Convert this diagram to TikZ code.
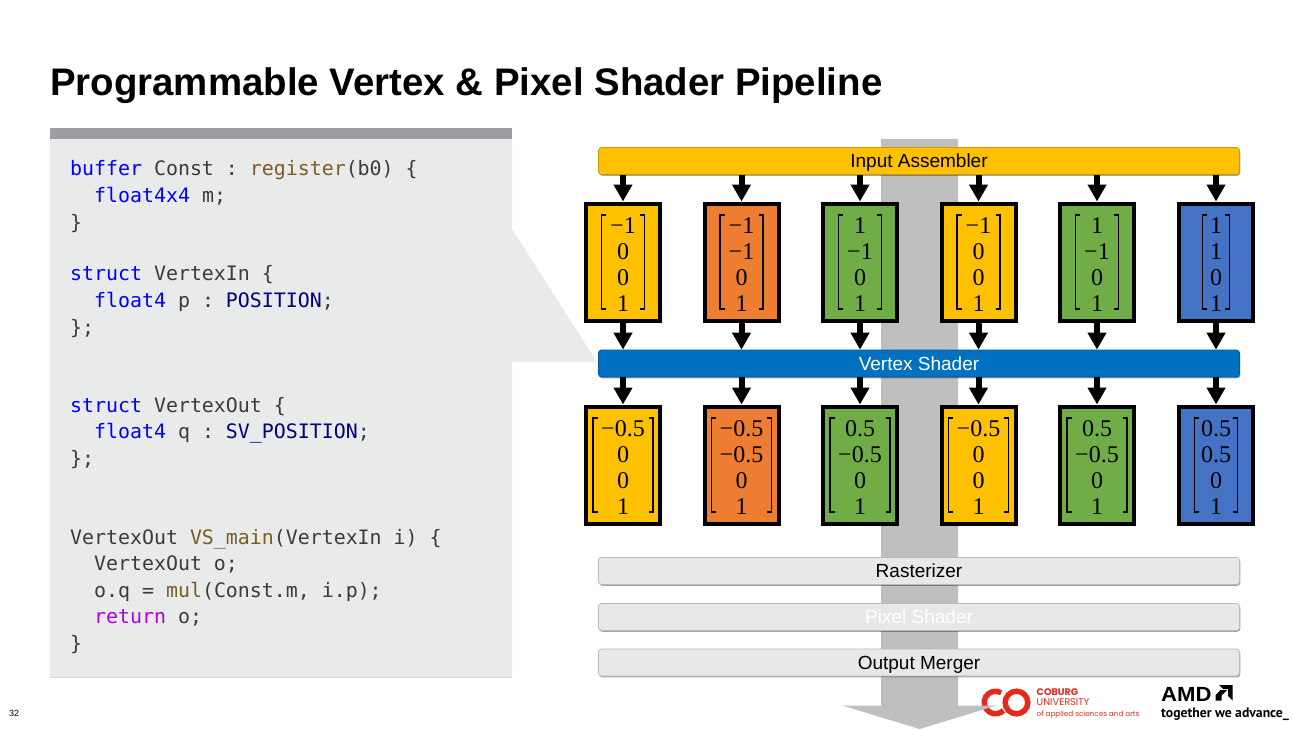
\documentclass[tikz,border=0pt]{standalone}
\usepackage{fontspec}
\usetikzlibrary{arrows.meta,shadows}
\setmainfont{Liberation Sans}
\setmonofont{DejaVu Sans Mono}
\newfontfamily\popfont{Poppins}
\newfontfamily\tagfont{PT Sans}
\newfontfamily\digfont{Liberation Serif}
\definecolor{cgold}{HTML}{FFC000}
\definecolor{corange}{HTML}{ED7D31}
\definecolor{cgreen}{HTML}{70AD47}
\definecolor{cblue}{HTML}{4472C4}
\definecolor{cvs}{HTML}{0070C0}
\definecolor{cpanel}{HTML}{E9EBEB}
\definecolor{cband}{HTML}{9D9EA1}
\definecolor{cflow}{HTML}{BFBFBF}
\definecolor{cbar}{HTML}{E7E8E8}
\definecolor{cred}{HTML}{E42A1D}
\definecolor{kwblue}{HTML}{0000FF}
\definecolor{tyblue}{HTML}{000080}
\definecolor{fnbrown}{HTML}{795E26}
\definecolor{kwpurple}{HTML}{AF00DB}
\definecolor{codetx}{HTML}{3B3B3B}
\newcommand{\kw}[1]{\textcolor{kwblue}{#1}}
\newcommand{\ty}[1]{\textcolor{tyblue}{#1}}
\newcommand{\fn}[1]{\textcolor{fnbrown}{#1}}
\newcommand{\pu}[1]{\textcolor{kwpurple}{#1}}
\tikzset{
  codeline/.style={anchor=base west,inner sep=0pt,yshift=-0.8pt,text=codetx,font=\ttfamily\fontsize{19.9}{24}\selectfont},
  barbox/.style={draw=#1!80!black,fill=#1,line width=.8pt,rounded corners=3pt,minimum width=641pt,minimum height=27pt,inner sep=0pt,
    text height=13.4pt,text depth=0pt,
    font=\fontsize{19}{22}\selectfont,drop shadow={shadow xshift=.8pt,shadow yshift=-1.3pt,opacity=.35,fill=black}},
  vecbox/.style={draw=black,fill=#1,line width=4pt,minimum width=74pt,minimum height=117pt,inner sep=0pt,align=center,
    font=\digfont\fontsize{24}{26}\selectfont},
  flowarrow/.style={-{Triangle[width=18pt,length=17pt]},line width=6pt,black,shorten <=-.3pt},
  brack/.style={draw=black,line width=1.3pt}
}
% name, x, y, fill, half width of bracket, body
\newcommand{\vecnode}[6]{%
  \node[vecbox=#4] (#1) at (#2,#3) {\rule{0pt}{20.5pt}#6};
  \draw[brack] ([shift={(-#5+4.5,-47)}]#1.center) -- ++(-4.5,0) -- ++(0,94) -- ++(4.5,0);
  \draw[brack] ([shift={(#5-4.5,-47)}]#1.center) -- ++(4.5,0) -- ++(0,94) -- ++(-4.5,0);
}
\begin{document}
\begin{tikzpicture}[x=1pt,y=-1pt]
\useasboundingbox (0,0) rectangle (1293,729);
\fill[white] (0,0) rectangle (1293,729);
% title
\node[anchor=base west,inner sep=0pt,font=\bfseries\fontsize{38.4}{44}\selectfont] (title) at (50,95.5) {Programmable Vertex \& Pixel Shader Pipeline};
% code panel
\fill[cpanel] (50,139) -- (512,139) -- (512,229) -- (597,362) -- (512,362) -- (512,677) -- (50,677) -- cycle;
\fill[cband] (50,128) rectangle (512,139);
\fill[black!15] (50,676.5) rectangle (512,678);
\node[codeline] (c1) at (70,175) {\kw{buffer} Const : \fn{register}(b0) \{};
\node[codeline] (c2) at (94,202) {\kw{float4x4} m;};
\node[codeline] (c3) at (70,229) {\}};
\node[codeline] (c4) at (70,280) {\kw{struct} VertexIn \{};
\node[codeline] (c5) at (94,307) {\kw{float4} p : \ty{POSITION};};
\node[codeline] (c6) at (70,334) {\};};
\node[codeline] (c7) at (70,412) {\kw{struct} VertexOut \{};
\node[codeline] (c8) at (94,438) {\kw{float4} q : \ty{SV\_POSITION};};
\node[codeline] (c9) at (70,465) {\};};
\node[codeline] (c10) at (70,544) {VertexOut \fn{VS\_main}(VertexIn i) \{};
\node[codeline] (c11) at (94,570) {VertexOut o;};
\node[codeline] (c12) at (94,597) {o.q = \fn{mul}(Const.m, i.p);};
\node[codeline] (c13) at (94,623) {\pu{return} o;};
\node[codeline] (c14) at (70,650) {\}};
% Coburg logo
\draw[cred,line width=5.5pt] (1001.15,692.7) arc[start angle=-60,end angle=-315,radius=11.3];
\draw[cred,line width=5.5pt] (1016.5,702.5) circle[radius=11.3];
\node[anchor=base west,inner sep=0pt,text=cred,font=\popfont\bfseries\fontsize{9.6}{11}\selectfont] (lg1) at (1036.5,695) {COBURG};
\node[anchor=base west,inner sep=0pt,text=cred,font=\popfont\fontsize{9.8}{11}\selectfont] (lg2) at (1036.5,705.5) {UNIVERSITY};
\node[anchor=base west,inner sep=0pt,text=cred,font=\popfont\fontsize{7.25}{9}\selectfont] (lg3) at (1036.5,716.5) {of applied sciences and arts};
% big flow arrow
\fill[cflow] (881,139) -- (958,139) -- (958,705.7) -- (996,705.7) -- (919.5,729) -- (843,705.7) -- (881,705.7) -- cycle;
% bars
\node[barbox=cgold] (ia) at (919,161) {Input Assembler};
\node[barbox=cvs,text=white] (vs) at (919,363.5) {Vertex Shader};
\node[barbox=cbar] (ra) at (919,571) {Rasterizer};
\node[barbox=cbar,text=white] (ps) at (919,617) {Pixel Shader};
\node[barbox=cbar] (om) at (919,662.5) {Output Merger};
% input vectors
\def\vA{−1\\0\\0\\1}
\def\vB{−1\\−1\\0\\1}
\def\vC{1\\−1\\0\\1}
\def\vD{1\\1\\0\\1}
\def\wA{−0.5\\0\\0\\1}
\def\wB{−0.5\\−0.5\\0\\1}
\def\wC{0.5\\−0.5\\0\\1}
\def\wD{0.5\\0.5\\0\\1}
\vecnode{a1}{623}{262}{cgold}{21.5}{\vA}
\vecnode{a2}{741.5}{262}{corange}{21.5}{\vB}
\vecnode{a3}{860}{262}{cgreen}{21.5}{\vC}
\vecnode{a4}{978.5}{262}{cgold}{21.5}{\vA}
\vecnode{a5}{1097}{262}{cgreen}{21.5}{\vC}
\vecnode{a6}{1216}{262}{cblue}{13.5}{\vD}
\vecnode{b1}{623}{465}{cgold}{30}{\wA}
\vecnode{b2}{741.5}{465}{corange}{30}{\wB}
\vecnode{b3}{860}{465}{cgreen}{30}{\wC}
\vecnode{b4}{978.5}{465}{cgold}{30}{\wA}
\vecnode{b5}{1097}{465}{cgreen}{30}{\wC}
\vecnode{b6}{1216}{465}{cblue}{21.5}{\wD}
% connectors
\foreach \n in {1,...,6}{
  \draw[flowarrow] (a\n.north |- ia.south) -- (a\n.north);
  \draw[flowarrow] (a\n.south) -- (a\n.south |- vs.north);
  \draw[flowarrow] (b\n.north |- vs.south) -- (b\n.north);
}
% AMD logo
\node[anchor=base west,inner sep=0pt,xscale=1.08,font=\bfseries\fontsize{20.5}{24}\selectfont] (amd) at (1161,701) {AMD};
\fill[black] (1219,685) -- (1232.5,685) -- (1232.5,700.5) -- (1228,696) -- (1228,689) -- (1223,689) -- cycle;
\fill[black] (1215.5,700.5) -- (1215.5,695) -- (1220.5,690) -- (1227,690) -- (1221.5,695.5) -- (1221.5,700.5) -- cycle;
\node[anchor=base west,inner sep=0pt,font=\tagfont\bfseries\fontsize{13.7}{17}\selectfont] (tag) at (1161,717.5) {together we advance\_};
% page number
\node[anchor=base west,inner sep=0pt,font=\fontsize{9}{11}\selectfont] (pg) at (9,716) {32};
\end{tikzpicture}
\end{document}
